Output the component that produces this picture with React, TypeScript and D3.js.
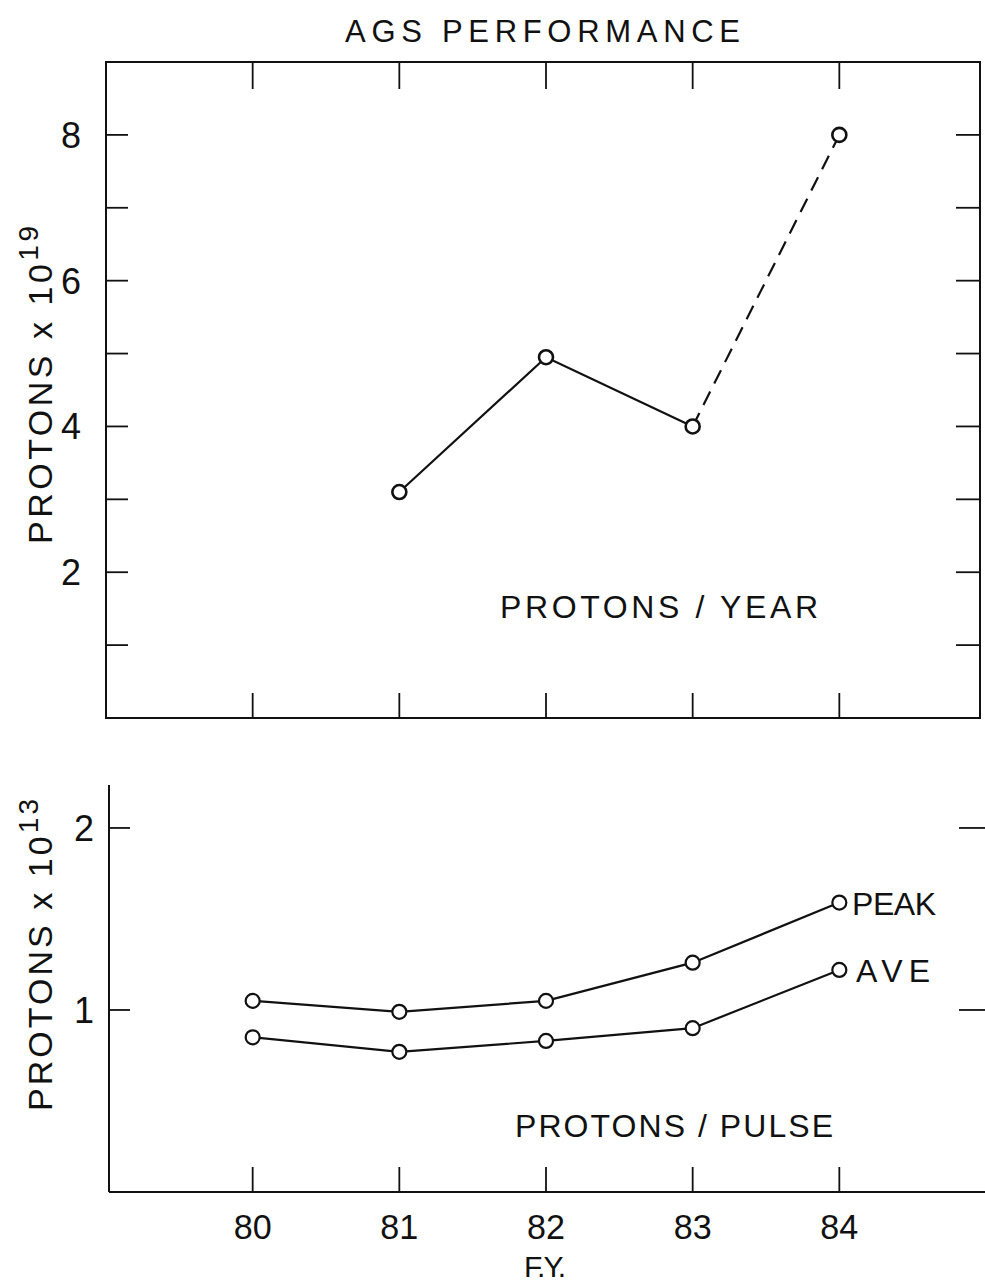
import * as d3 from 'd3'

// fiscal years and values
const years = [80, 81, 82, 83, 84]
const yearlyYears = [81, 82, 83, 84]
const protonsPerYear = [3.1, 4.95, 4.0, 8.0] // x 10^19
const peakPulse = [1.05, 0.99, 1.05, 1.26, 1.59] // x 10^13
const avePulse = [0.85, 0.77, 0.83, 0.9, 1.22] // x 10^13
const topTicks = [1, 2, 3, 4, 5, 6, 7, 8]
const topTickLabels = [2, 4, 6, 8]
const bottomTicks = [1, 2]

const W = 985
const H = 1282
const font = "'Liberation Sans', 'DejaVu Sans', sans-serif"
const ink = '#111'

// lettering: stretch the spacing to the measured width
function Label(props: { x: number; y: number; size: number; len?: number; adjust?: string; anchor?: string; children: any }) {
  const { x, y, size, len, adjust, anchor, children } = props
  return (
    <text
      x={x}
      y={y}
      textAnchor={anchor || 'start'}
      fontFamily={font}
      fontSize={size}
      fill={ink}
      textLength={len}
      lengthAdjust={len ? adjust || 'spacing' : undefined}
    >
      {children}
    </text>
  )
}

export default function App() {
  const left = 106
  const right = 980
  const x = d3.scaleLinear().domain([79, 85]).range([left, 986])

  // top panel
  const t0 = 62
  const t1 = 718
  const yTop = d3.scaleLinear().domain([0, 9]).range([t1, t0])

  // bottom panel
  const b0 = 785
  const b1 = 1192
  const yBot = d3.scaleLinear().domain([0, 2.236]).range([b1, b0])

  const solidPart = protonsPerYear.slice(0, 3)
  const dashedPart = protonsPerYear.slice(2)

  const lineTop = d3
    .line<number>()
    .x((_, i) => x(yearlyYears[i]))
    .y(d => yTop(d))

  const dashedLine = d3
    .line<number>()
    .x((_, i) => x(yearlyYears[i + 2]))
    .y(d => yTop(d))

  const lineBot = d3
    .line<number>()
    .x((_, i) => x(years[i]))
    .y(d => yBot(d))

  const lw = 2.2

  return (
    <svg width={W} height={H} style={{ display: 'block', position: 'absolute', left: 0, top: 0, background: '#fff' }}>
      <Label x={345} y={42} size={31} len={395}>AGS PERFORMANCE</Label>

      {/* ---- top panel ---- */}
      <rect x={left} y={t0} width={right - left} height={t1 - t0} fill="none" stroke={ink} strokeWidth={2} />
      {topTicks.map(v => (
        <g key={'yt' + v}>
          <line x1={left} x2={left + 22} y1={yTop(v)} y2={yTop(v)} stroke={ink} strokeWidth={1.8} />
          <line x1={right - 24} x2={right} y1={yTop(v)} y2={yTop(v)} stroke={ink} strokeWidth={1.8} />
        </g>
      ))}
      {years.map(v => (
        <g key={'xt' + v}>
          <line x1={x(v)} x2={x(v)} y1={t0} y2={t0 + 27} stroke={ink} strokeWidth={1.8} />
          <line x1={x(v)} x2={x(v)} y1={t1} y2={t1 - 25} stroke={ink} strokeWidth={1.8} />
        </g>
      ))}
      {topTickLabels.map(v => (
        <Label key={'yl' + v} x={71} y={yTop(v) + 13} size={36} anchor="middle">
          {v}
        </Label>
      ))}
      <text transform="translate(52, 385) rotate(-90)" textAnchor="middle" fontFamily={font} fontSize={34} fill={ink} textLength={318} lengthAdjust="spacing">
        PROTONS x 10<tspan dy={-14} fontSize={28}>19</tspan>
      </text>

      <path d={lineTop(solidPart) || ''} fill="none" stroke={ink} strokeWidth={lw} />
      <path d={dashedLine(dashedPart) || ''} fill="none" stroke={ink} strokeWidth={lw} strokeDasharray="15 9" />
      {protonsPerYear.map((v, i) => (
        <circle key={'tp' + i} cx={x(yearlyYears[i])} cy={yTop(v)} r={7} fill="#fff" stroke={ink} strokeWidth={2.6} />
      ))}

      <Label x={500} y={618} size={32} len={318}>PROTONS / YEAR</Label>

      {/* ---- bottom panel ---- */}
      <line x1={left + 3} x2={left + 3} y1={b0} y2={b1} stroke={ink} strokeWidth={2} />
      <line x1={left + 3} x2={W} y1={b1} y2={b1} stroke={ink} strokeWidth={2} />
      {bottomTicks.map(v => (
        <g key={'by' + v}>
          <line x1={left + 3} x2={left + 24} y1={yBot(v)} y2={yBot(v)} stroke={ink} strokeWidth={1.8} />
          <line x1={W - 26} x2={W} y1={yBot(v)} y2={yBot(v)} stroke={ink} strokeWidth={1.8} />
          <Label x={84} y={yBot(v) + 13} size={36} anchor="middle">
            {v}
          </Label>
        </g>
      ))}
      {years.map(v => (
        <g key={'bx' + v}>
          <line x1={x(v)} x2={x(v)} y1={b1} y2={b1 - 25} stroke={ink} strokeWidth={1.8} />
          <Label x={x(v)} y={1239} size={35} len={38} adjust="spacingAndGlyphs" anchor="middle">
            {v}
          </Label>
        </g>
      ))}
      <Label x={545} y={1277} size={30} len={42} anchor="middle">F.Y.</Label>
      <text transform="translate(52, 955) rotate(-90)" textAnchor="middle" fontFamily={font} fontSize={34} fill={ink} textLength={312} lengthAdjust="spacing">
        PROTONS x 10<tspan dy={-14} fontSize={28}>13</tspan>
      </text>

      <path d={lineBot(peakPulse) || ''} fill="none" stroke={ink} strokeWidth={lw} />
      <path d={lineBot(avePulse) || ''} fill="none" stroke={ink} strokeWidth={lw} />
      {peakPulse.map((v, i) => (
        <circle key={'pk' + i} cx={x(years[i])} cy={yBot(v)} r={7} fill="#fff" stroke={ink} strokeWidth={2.2} />
      ))}
      {avePulse.map((v, i) => (
        <circle key={'av' + i} cx={x(years[i])} cy={yBot(v)} r={7} fill="#fff" stroke={ink} strokeWidth={2.2} />
      ))}
      <Label x={852} y={yBot(peakPulse[4]) + 12} size={32} len={84}>PEAK</Label>
      <Label x={856} y={yBot(avePulse[4]) + 12} size={32} len={74}>AVE</Label>

      <Label x={515} y={1137} size={32} len={318}>PROTONS / PULSE</Label>
    </svg>
  )
}
